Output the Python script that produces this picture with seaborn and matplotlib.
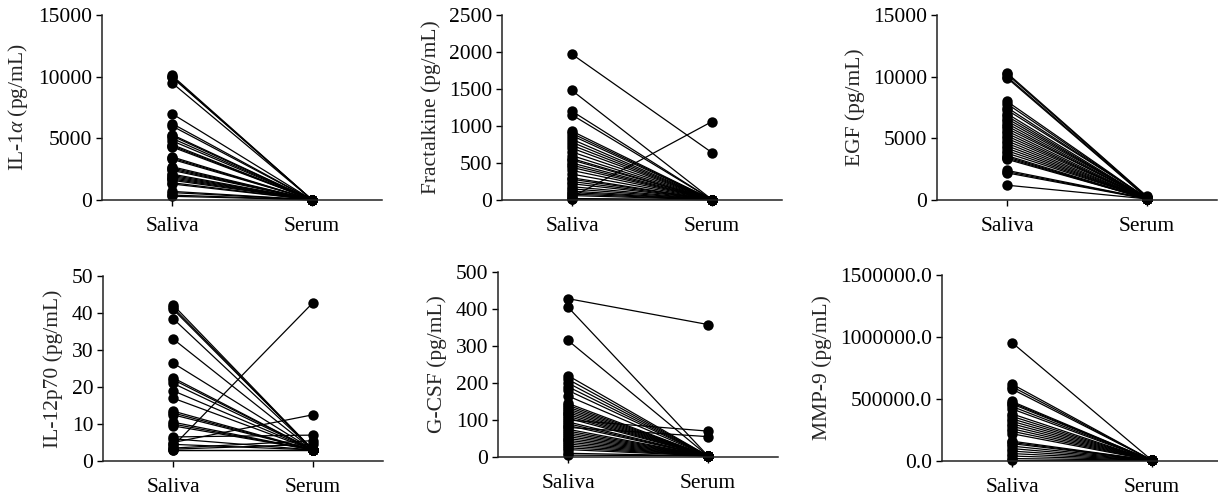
import numpy as np
import pandas as pd
import matplotlib
matplotlib.use("Agg")
import matplotlib.pyplot as plt
import seaborn as sns
from matplotlib.ticker import FuncFormatter

# ---------------- data ----------------
groups = ["Saliva", "Serum"]

il1a_saliva = [10100, 10000, 9950, 9500, 7000, 6200, 6000, 5300, 5200, 5000, 4800, 4500,
               4400, 4300, 3500, 3400, 3300, 2700, 2600, 2500, 2400, 2100, 2000, 1900,
               1800, 1700, 1600, 1400, 1300, 700, 600, 400, 300]
il1a_serum = [20] * len(il1a_saliva)

fract_saliva = [1970, 1480, 1200, 1150, 930, 900, 870, 820, 780, 740, 700, 650, 600, 560,
                540, 500, 470, 440, 400, 350, 300, 280, 250, 220, 180, 150, 120, 100, 80,
                60, 40, 20, 10]
fract_serum = [640, 5, 5, 5, 5, 5, 5, 5, 5, 5, 5, 5, 5, 5, 5, 5, 5, 5, 5, 5, 5, 5, 5, 5,
               5, 5, 5, 5, 5, 5, 1060, 5, 5]

egf_saliva = [10300, 10200, 10000, 9900, 8000, 7800, 7500, 7300, 7000, 6800, 6600, 6400,
              6200, 6000, 5800, 5600, 5400, 5200, 5000, 4800, 4600, 4400, 4200, 4000, 3800,
              3600, 3500, 3400, 3300, 2400, 2300, 2200, 1200]
egf_serum = [300, 250, 200, 150, 120, 100, 150, 200, 100, 80, 120, 150, 100, 90, 200, 100,
             80, 120, 150, 100, 90, 80, 100, 120, 150, 100, 80, 90, 100, 120, 100, 80, 90]

il12_saliva = [42.2, 41.5, 41.0, 38.5, 33.0, 26.5, 22.5, 22.0, 21.0, 19.0, 17.0, 13.5, 13.0,
               12.5, 10.5, 10.0, 9.5, 6.5, 6.0, 5.0, 4.5, 4.0, 3.5, 3.2, 3.0, 3.0]
il12_serum = [3.0, 3.0, 3.0, 3.0, 3.0, 3.0, 3.0, 3.0, 3.0, 3.0, 3.0, 3.0, 3.0, 3.0, 3.0,
              3.0, 3.0, 7.0, 3.0, 12.5, 3.0, 42.8, 5.5, 4.5, 3.0, 3.0]

gcsf_saliva = [428, 405, 315, 220, 210, 200, 190, 180, 165, 145, 140, 135, 130, 125, 120,
               115, 110, 105, 100, 95, 90, 85, 80, 75, 70, 65, 60, 55, 50, 45, 40, 35, 30,
               25, 20, 10, 5]
gcsf_serum = [358, 3, 3, 3, 3, 3, 3, 3, 3, 3, 3, 3, 3, 3, 3, 3, 3, 3, 70, 3, 3, 3, 55, 3,
              3, 3, 3, 3, 3, 3, 3, 3, 3, 3, 3, 3, 3]

mmp9_saliva = [955000, 620000, 600000, 580000, 480000, 470000, 460000, 440000, 420000,
               380000, 360000, 340000, 320000, 300000, 280000, 260000, 240000, 220000,
               160000, 150000, 140000, 120000, 100000, 80000, 60000, 40000, 20000, 5000]
mmp9_serum = [5000] * len(mmp9_saliva)

panels = [
    ("IL-1$\\alpha$ (pg/mL)", il1a_saliva, il1a_serum, [0, 5000, 10000, 15000], "int"),
    ("Fractalkine (pg/mL)", fract_saliva, fract_serum, [0, 500, 1000, 1500, 2000, 2500], "int"),
    ("EGF (pg/mL)", egf_saliva, egf_serum, [0, 5000, 10000, 15000], "int"),
    ("IL-12p70 (pg/mL)", il12_saliva, il12_serum, [0, 10, 20, 30, 40, 50], "int"),
    ("G-CSF (pg/mL)", gcsf_saliva, gcsf_serum, [0, 100, 200, 300, 400, 500], "int"),
    ("MMP-9 (pg/mL)", mmp9_saliva, mmp9_serum, [0, 500000, 1000000, 1500000], "dec"),
]

# axes positions in pixels: left, top, bottom
pos_px = [
    (102, 15, 200), (502, 15, 200), (937, 15, 200),
    (103, 276, 461), (498, 272, 457), (942, 275, 461),
]

W, H = 1218, 496
sns.set_style("ticks")
plt.rcParams["font.family"] = ["Liberation Serif", "DejaVu Serif"]
plt.rcParams["mathtext.fontset"] = "custom"
plt.rcParams["mathtext.it"] = "Liberation Serif:italic"
plt.rcParams["mathtext.rm"] = "Liberation Serif"

FS = 15.5
fig = plt.figure(figsize=(W / 100, H / 100), dpi=100)

for (label, sal, ser, ticks, fmt), (lpx, tpx, bpx) in zip(panels, pos_px):
    ax = fig.add_axes([lpx / W, (H - bpx) / H, 280 / W, (bpx - tpx) / H])
    n = len(sal)
    df = pd.DataFrame({
        "subject": list(range(n)) * 2,
        "x": [0] * n + [1] * n,
        "value": list(sal) + list(ser),
    })
    sns.lineplot(data=df, x="x", y="value", units="subject", estimator=None,
                 color="black", marker="o", markersize=7.5, markeredgewidth=0,
                 linewidth=0.9, ax=ax, legend=False)
    for ln in ax.lines:
        ln.set_clip_on(False)
    ax.set_xlim(-0.5, 1.5)
    ax.set_ylim(ticks[0], ticks[-1])
    ax.set_yticks(ticks)
    if fmt == "dec":
        ax.yaxis.set_major_formatter(FuncFormatter(lambda v, p: f"{v:.1f}"))
    else:
        ax.yaxis.set_major_formatter(FuncFormatter(lambda v, p: f"{int(v)}"))
    ax.set_xticks([0, 1])
    ax.set_xticklabels(groups)
    ax.set_xlabel("")
    ax.set_ylabel(label, fontsize=FS, labelpad=6)
    ax.tick_params(axis="both", labelsize=FS, length=4, width=1, colors="black")
    ax.tick_params(axis="x", pad=8)
    ax.tick_params(axis="y", pad=3)
    for s in ["top", "right"]:
        ax.spines[s].set_visible(False)
    for s in ["left", "bottom"]:
        ax.spines[s].set_linewidth(1.1)
        ax.spines[s].set_color("#222222")

fig.savefig("out.png", dpi=100)
